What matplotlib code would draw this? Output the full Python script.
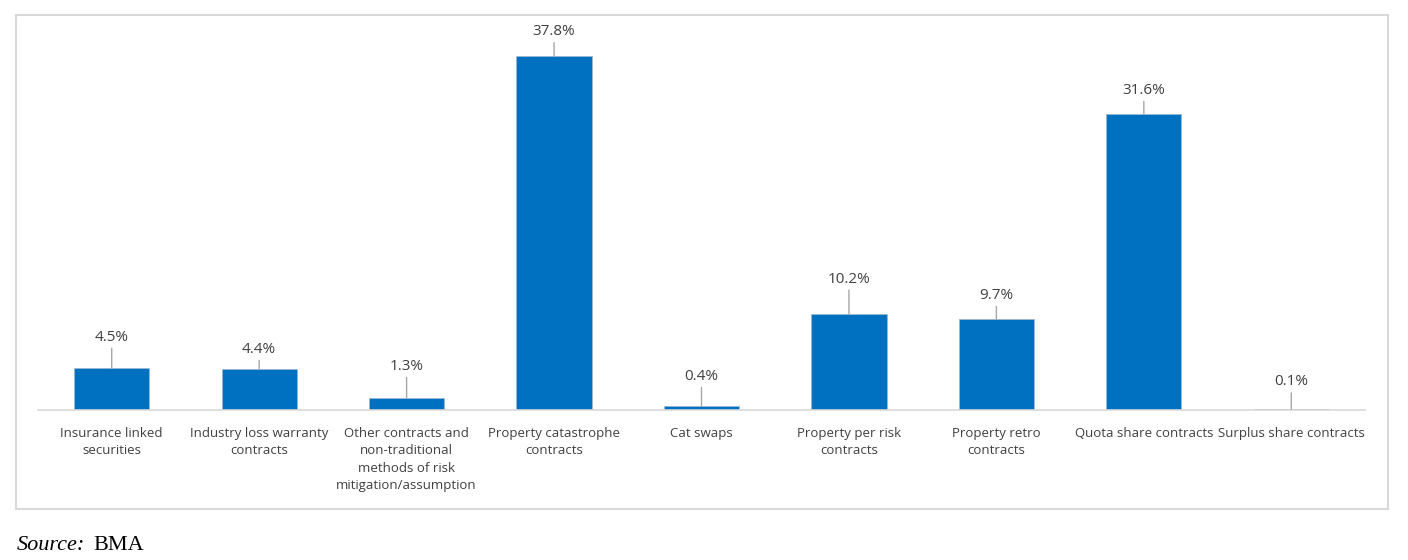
import matplotlib.pyplot as plt
from matplotlib.patches import Rectangle

categories = [
    "Insurance linked\nsecurities",
    "Industry loss warranty\ncontracts",
    "Other contracts and\nnon-traditional\nmethods of risk\nmitigation/assumption",
    "Property catastrophe\ncontracts",
    "Cat swaps",
    "Property per risk\ncontracts",
    "Property retro\ncontracts",
    "Quota share contracts",
    "Surplus share contracts",
]
shares = [4.5, 4.4, 1.3, 37.8, 0.4, 10.2, 9.7, 31.6, 0.1]
# how far (points) each data label's baseline sits above its bar, as placed in the original
label_lift = [19.5, 11.5, 20, 15, 19, 23, 14.5, 14.5, 17]

plt.rcParams['font.family'] = ['Open Sans', 'DejaVu Sans']

fig = plt.figure(figsize=(14.08, 5.6), dpi=100)
ax = fig.add_axes([38 / 1408, 1 - 410 / 560, (1365 - 38) / 1408, 374.6 / 560])

x = range(len(categories))
ax.bar(x, shares, width=0.51, color="#0070C0", edgecolor="#9DB7D0", linewidth=0.6, zorder=2)

for i, v in enumerate(shares):
    ax.annotate(f"{v:.1f}%", xy=(i, v), xytext=(0, label_lift[i]), textcoords="offset points",
                ha="center", va="baseline", fontsize=11, color="#404040",
                arrowprops=dict(arrowstyle="-", color="#A6A6A6", lw=1, shrinkA=0.5, shrinkB=0))

ax.set_xlim(-0.5, 8.5)
ax.set_ylim(0, 40)
ax.set_xticks(list(x))
ax.set_xticklabels(categories, fontsize=9.5, color="#404040", linespacing=1.45)
ax.tick_params(axis="x", length=0, pad=12)
ax.set_yticks([])
for s in ["top", "right", "left"]:
    ax.spines[s].set_visible(False)
ax.spines["bottom"].set_color("#D9D9D9")
ax.spines["bottom"].set_linewidth(1.2)

# outer chart frame
fig.patches.append(Rectangle((16 / 1408, 1 - 509 / 560), (1388 - 16) / 1408, (509 - 15) / 560,
                             transform=fig.transFigure, fill=False, edgecolor="#D9D9D9", linewidth=1.5))

src = fig.text(17 / 1408, 1 - 550 / 560, "Source:", family="Liberation Serif", style="italic",
               fontsize=16, color="black", va="baseline", ha="left")
fig.text(93 / 1408, 1 - 550 / 560, "BMA", family="Liberation Serif",
         fontsize=16, color="black", va="baseline", ha="left")

fig.savefig("out.png", dpi=100)
